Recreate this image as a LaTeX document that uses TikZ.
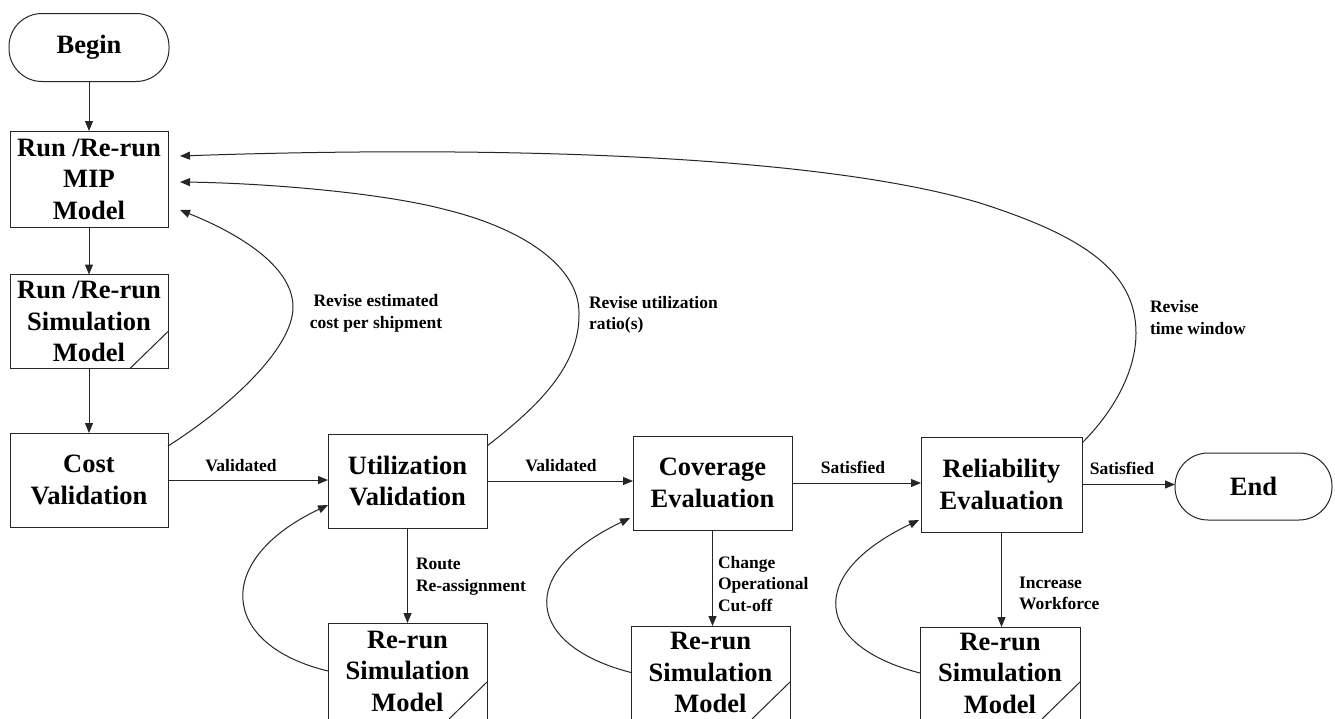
\documentclass[tikz,border=0pt]{standalone}
\usepackage{fontspec}
\setmainfont{Liberation Serif}
\usetikzlibrary{arrows.meta,calc}
\begin{document}
\begin{tikzpicture}[x=1pt,y=-1pt,
  every node/.style={inner sep=0pt, outer sep=0pt},
  box/.style={draw=black!85, line width=1pt, rectangle, align=center,
    font=\bfseries\fontsize{26.5}{31.5}\selectfont},
  term/.style={box, rounded corners=33pt},
  lbl/.style={font=\bfseries\fontsize{17.5}{21.5}\selectfont, align=left},
  arr/.style={draw=black!85, line width=1pt, -{Triangle[length=10pt,width=8pt]}},
  flow/.style={draw=black!85, line width=1pt}
]
\useasboundingbox (0,0) rectangle (1335,718);
\fill[white] (0,0) rectangle (1335,718);

% main column and evaluation chain
\node[term, minimum width=160, minimum height=68] (begin) at (89,47.5) {Begin};
\node[box, minimum width=158, minimum height=96] (mip) at (89,179) {Run /Re-run\\MIP\\Model};
\node[box, minimum width=158, minimum height=94] (sim0) at (89,321.5) {Run /Re-run\\Simulation\\Model};
\node[box, minimum width=158, minimum height=94] (cost) at (89,480) {Cost\\Validation};
\node[box, minimum width=159, minimum height=94] (util) at (407.5,481) {Utilization\\Validation};
\node[box, minimum width=159, minimum height=94] (cov) at (712.5,483) {Coverage\\Evaluation};
\node[box, minimum width=161, minimum height=95] (rel) at (1001.5,484.5) {Reliability\\Evaluation};
\node[term, minimum width=157, minimum height=67] (endn) at (1253.5,486.5) {End};

% re-run simulation boxes
\node[box, minimum width=159, minimum height=96] (simU) at (407.5,671) {Re-run\\Simulation\\Model};
\node[box, minimum width=159, minimum height=93] (simC) at (710.5,672.5) {Re-run\\Simulation\\Model};
\node[box, minimum width=160, minimum height=92] (simR) at (1000,673) {Re-run\\Simulation\\Model};

% cut corner of the simulation symbols
\foreach \n in {sim0,simU,simC,simR}
  \draw[flow] ($(\n.south east)+(0,-37)$) -- ($(\n.south east)+(-38,0)$);

% straight connectors
\draw[arr] (begin.south) -- (mip.north);
\draw[arr] (mip.south) -- (sim0.north);
\draw[arr] (sim0.south) -- (cost.north);
\draw[arr] (cost.east) -- (cost.east -| util.west);
\draw[arr] (util.east) -- (util.east -| cov.west);
\draw[arr] (cov.east) -- (cov.east -| rel.west);
\draw[arr] (rel.east) -- (rel.east -| endn.west);
\draw[arr] (util.south) -- (util.south |- simU.north);
\draw[arr] (cov.south) -- (cov.south |- simC.north);
\draw[arr] (rel.south) -- (rel.south |- simR.north);

% loops back from the re-run simulations
\draw[arr] (simU.west) .. controls +(-108,-26) and +(-116,55) .. ($(util.south west)+(0,-23)$);
\draw[arr] (simC.west) .. controls +(-105,-27) and +(-115,55) .. ($(cov.south west)+(-3,-12)$);
\draw[arr] (simR.west) .. controls +(-105,-27) and +(-115,55) .. ($(rel.south west)+(-2,-12)$);

% feedback to the MIP model
\coordinate (fbC) at ($(mip.east)+(12,31)$);
\coordinate (fbU) at ($(mip.east)+(12,3)$);
\coordinate (fbR) at ($(mip.east)+(12,-23)$);
\draw[arr] ($(cost.north east)+(0,13)$) .. controls (225,410) and (293,350) .. (293,307)
  .. controls (293,265) and (235,232) .. (fbC);
\draw[arr] ($(util.north east)+(0,12)$) .. controls (540,405) and (580,365) .. (579,313)
  .. controls (579,265) and (520,228) .. (447,210)
  .. controls (380,192) and (260,183) .. (fbU);
\draw[arr] ($(rel.north east)+(0,6)$) .. controls (1115,410) and (1136,370) .. (1136,333)
  .. controls (1136,270) and (1080,235) .. (980,203)
  .. controls (820,155) and (500,145) .. (fbR);

% connector labels
\node[lbl] (v1) at (241,466) {Validated};
\node[lbl] (v2) at (561,466) {Validated};
\node[lbl] (s1) at (853,467) {Satisfied};
\node[lbl] (s2) at (1122,468) {Satisfied};
\node[lbl, anchor=west] (lr) at (416,576.5) {Route\\Re-assignment};
\node[lbl, anchor=west] (lc) at (718,584) {Change\\Operational\\Cut-off};
\node[lbl, anchor=west] (li) at (1019,593.5) {Increase\\Workforce};
\node[lbl, align=center] (rc) at (376,313.5) {Revise estimated\\cost per shipment};
\node[lbl, anchor=west] (ru) at (589,315) {Revise utilization\\ratio(s)};
\node[lbl, anchor=west] (rt) at (1150,317.5) {Revise\\time window};
\end{tikzpicture}
\end{document}
